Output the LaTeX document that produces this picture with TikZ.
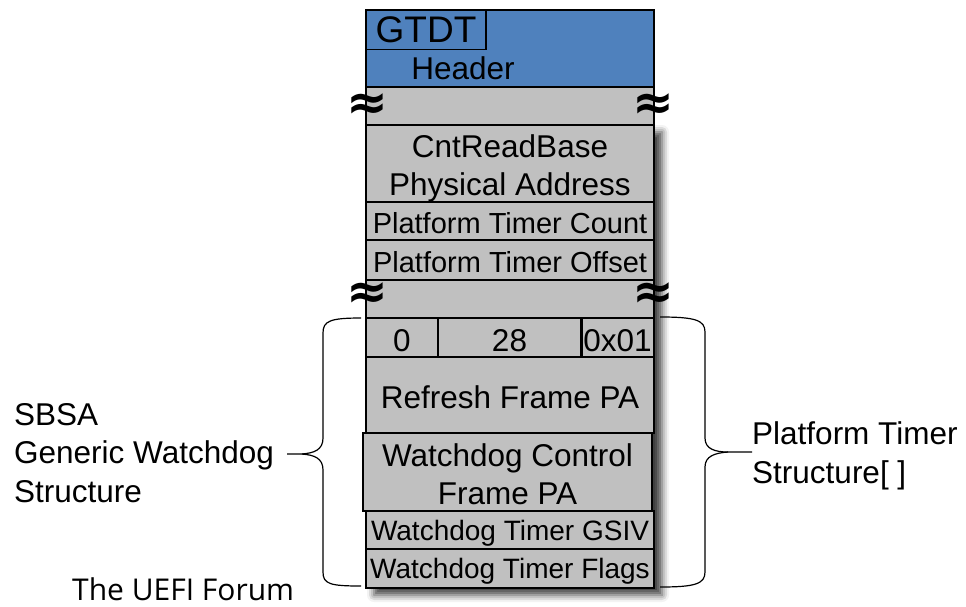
\documentclass[tikz,border=0pt]{standalone}
\usepackage{fontspec}
\setmainfont{Liberation Sans}
\newfontfamily\uefifont{Open Sans}
\newfontfamily\symfont{DejaVu Sans}
\usetikzlibrary{shadows.blur}
\definecolor{hdrblue}{RGB}{79,129,189}
\definecolor{cellgray}{RGB}{192,192,192}
\newcommand{\lowered}[2]{\raisebox{-#1}[\height][\depth]{#2}}
\tikzset{
  cell/.style={draw=black, line width=1.6pt, fill=cellgray, inner sep=0pt, align=center,
    font=\fontsize{31.5}{38}\selectfont},
  smallcell/.style={cell, font=\fontsize{29}{34}\selectfont},
  tinycell/.style={cell, font=\fontsize{28}{34}\selectfont},
  label/.style={inner sep=0pt, align=left, anchor=west, font=\fontsize{31.5}{38.5}\selectfont},
  approx/.style={inner sep=0pt, font=\symfont\bfseries\fontsize{50}{50}\selectfont},
  brace/.style={draw=black, line width=1.2pt},
}
\begin{document}
\begin{tikzpicture}[x=1pt,y=-1pt]
\useasboundingbox (0,0) rectangle (966,606);
% shadow
\path[blur shadow={shadow xshift=8pt,shadow yshift=-7pt,shadow blur radius=7pt,shadow opacity=75}]
  (366,125) rectangle (654,588);
% header
\node[cell, fill=hdrblue, minimum width=288pt, minimum height=77pt] (hdr) at (510,48.5) {};
\node[draw=black, line width=1.2pt, fill=hdrblue, minimum width=120pt, minimum height=39pt, inner sep=0pt,
  font=\fontsize{37}{37}\selectfont] (gtdt) at (426,30) {GTDT};
\node[inner sep=0pt, font=\fontsize{31.5}{38}\selectfont] (hdrtxt) at (463,68) {Header};
% rows
\node[cell, minimum width=288pt, minimum height=38pt] (gap1) at (510,106) {};
\node[cell, minimum width=288pt, minimum height=77pt] (cnt) at (510,163.5)
  {\lowered{5.5pt}{\begin{tabular}{@{}c@{}}CntReadBase\\Physical Address\end{tabular}}};
\node[smallcell, minimum width=288pt, minimum height=38pt] (ptc) at (510,221) {\lowered{2pt}{Platform Timer Count}};
\node[smallcell, minimum width=288pt, minimum height=40pt] (pto) at (510,260) {\lowered{2pt}{Platform Timer Offset}};
\node[cell, minimum width=288pt, minimum height=38pt] (gap2) at (510,299) {};
\node[cell, minimum width=72pt, minimum height=39pt] (c0) at (402,337.5) {\lowered{3pt}{0}};
\node[cell, minimum width=143pt, minimum height=39pt] (c28) at (509.5,337.5) {\lowered{3pt}{28}};
\node[cell, minimum width=73pt, minimum height=39pt] (c01) at (617.5,337.5) {\lowered{3pt}{0x01}};
\draw[line width=0.8pt] ([xshift=2.5pt]c01.north west) -- ([xshift=2.5pt]c01.south west);
\node[cell, minimum width=288pt, minimum height=76pt] (refresh) at (510,395) {\lowered{2pt}{Refresh Frame PA}};
\node[cell, line width=2.2pt, minimum width=289pt, minimum height=78pt] (wcf) at (507.5,472)
  {\lowered{5.5pt}{\begin{tabular}{@{}c@{}}Watchdog Control\\Frame PA\end{tabular}}};
\node[tinycell, minimum width=288pt, minimum height=38pt] (gsiv) at (510,530) {\lowered{3pt}{Watchdog Timer GSIV}};
\node[tinycell, minimum width=288pt, minimum height=39pt] (flags) at (510,568.5) {\lowered{3pt}{Watchdog Timer Flags}};
% break marks
\node[approx] (a1) at (367,107) {≈};
\node[approx] (a2) at (653,107) {≈};
\node[approx] (a3) at (367,296) {≈};
\node[approx] (a4) at (653,296) {≈};
% labels
\node[label] (sbsa) at (14,453) {SBSA\\Generic Watchdog\\Structure};
\node[label] (ptstruct) at (752,456) {Platform Timer\\Structure[ ]};
\node[inner sep=0pt, anchor=base west, font=\uefifont\fontsize{30}{30}\selectfont] (uefi) at (72,600) {The UEFI Forum};
% braces
\coordinate (lt) at (361,318);
\coordinate (lb) at (361,586);
\coordinate (ltip) at (287,454);
\draw[brace] (lt) .. controls (330,318) and (323,321) .. (323,333) -- (323,438)
  .. controls (323,450) and (314,453) .. (302,454) -- (ltip);
\draw[brace] (302,454) .. controls (314,455) and (323,458) .. (323,470) -- (323,572)
  .. controls (323,584) and (330,586) .. (lb);
\coordinate (rt) at (660,317);
\coordinate (rb) at (660,587);
\coordinate (rtip) at (752,452);
\draw[brace] (rt) .. controls (695,317) and (705,320) .. (705,332) -- (705,438)
  .. controls (705,449) and (715,452) .. (728,452) -- (rtip);
\draw[brace] (728,452) .. controls (715,453) and (705,456) .. (705,467) -- (705,572)
  .. controls (705,584) and (695,587) .. (rb);
\end{tikzpicture}
\end{document}
